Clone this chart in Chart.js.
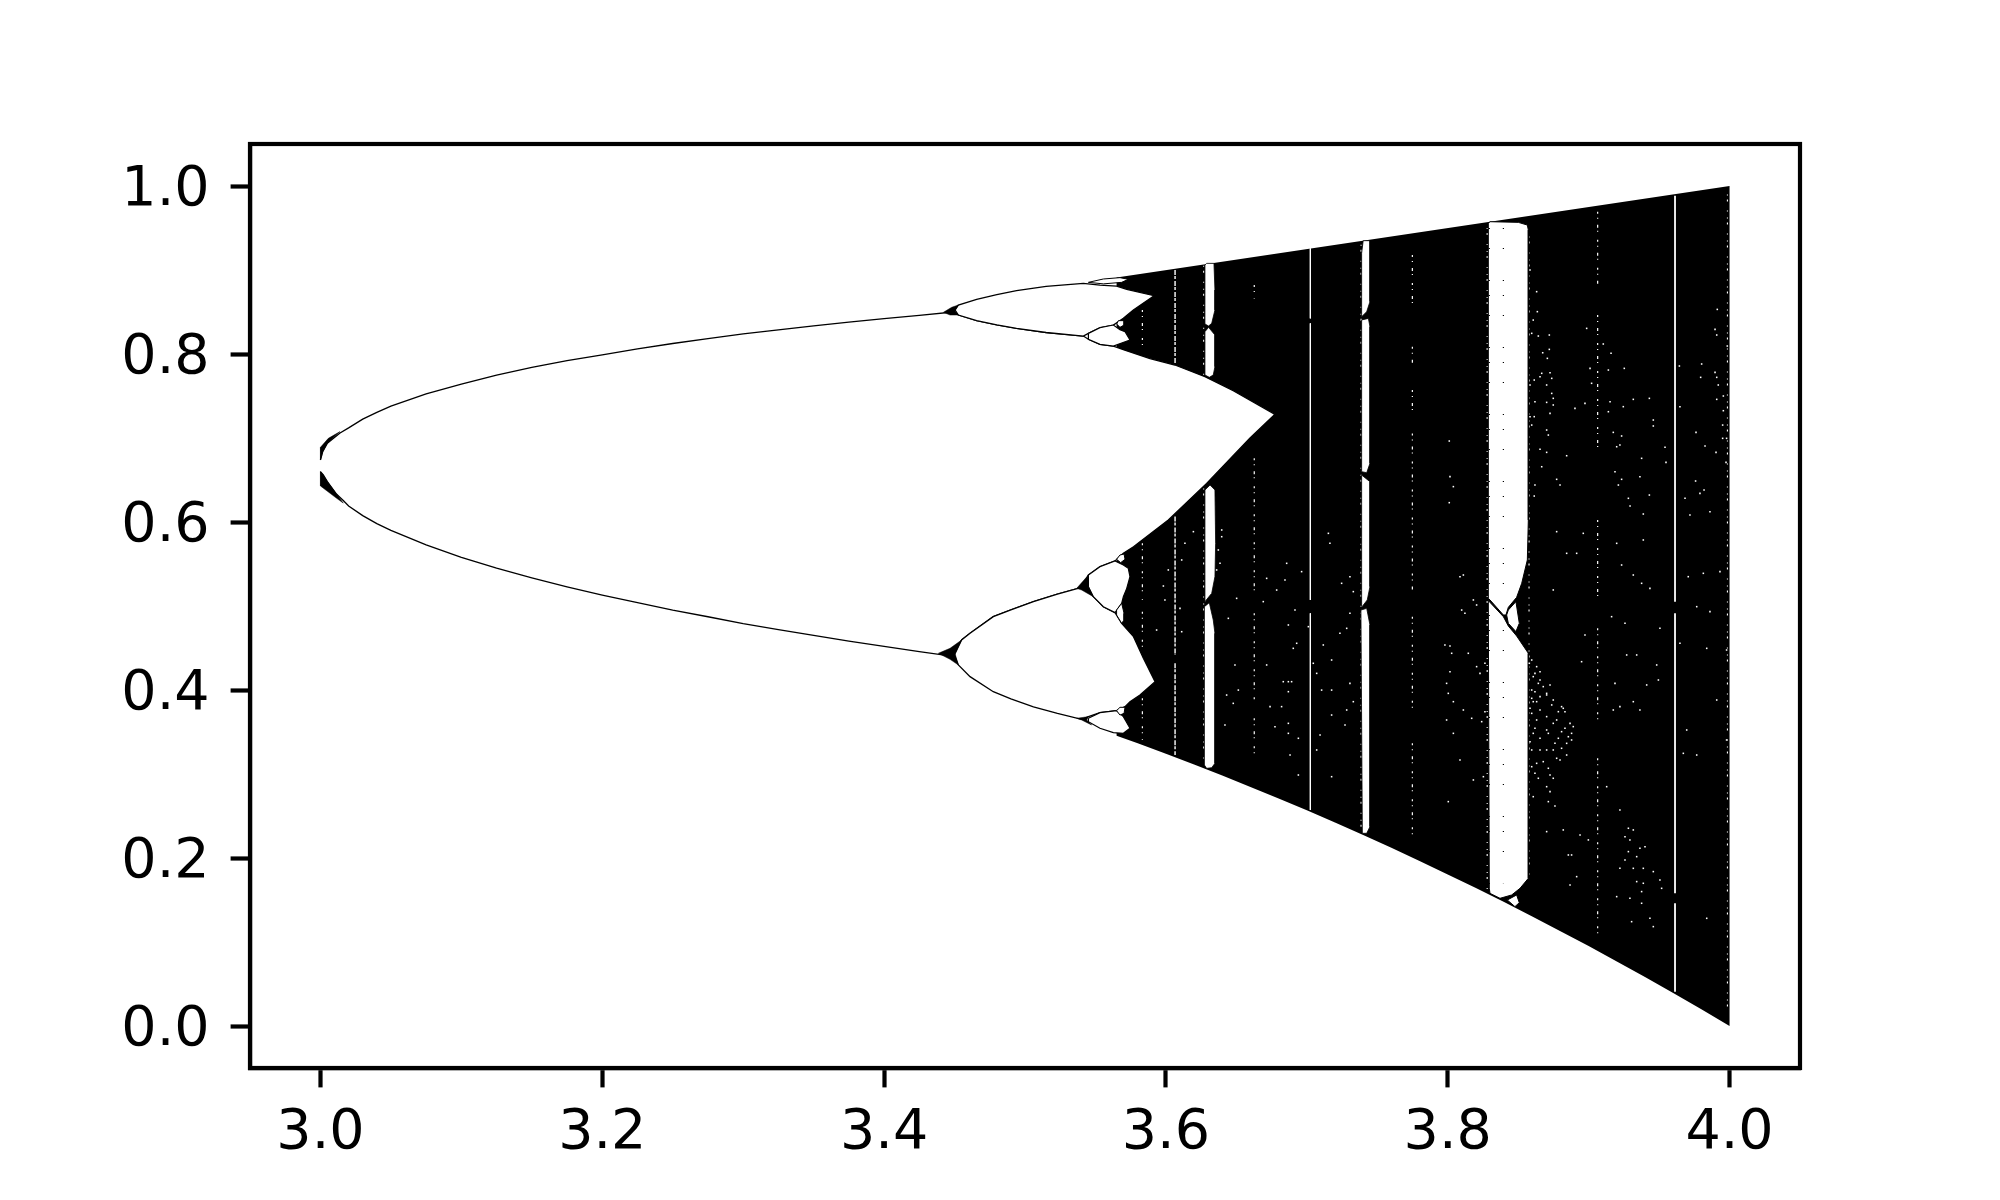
<!DOCTYPE html>
<html>
<head>
<meta charset="utf-8">
<title>Bifurcation diagram</title>
<script src="https://cdn.jsdelivr.net/npm/chart.js@4"></script>
<style>
  html, body { margin: 0; background: #fff; }
  canvas { display: block; }
</style>
</head>
<body>
<canvas id="myChart" width="2000" height="1200"></canvas>
<script>
const xTicks = [3.0, 3.2, 3.4, 3.6, 3.8, 4.0];
const yTicks = [0.0, 0.2, 0.4, 0.6, 0.8, 1.0];

// black band, r against x
const bandR = [3.565, 4.0, 4.0, 3.98, 3.96, 3.94, 3.92, 3.9, 3.88, 3.86, 3.84, 3.82, 3.8, 3.78, 3.76, 3.74, 3.72, 3.7, 3.68, 3.66, 3.64, 3.62, 3.6, 3.58, 3.565];
const bandV = [0.891, 1.0, 0.0, 0.0198, 0.0392, 0.0582, 0.0768, 0.0951, 0.1129, 0.1304, 0.1475, 0.1642, 0.1805, 0.1965, 0.2121, 0.2273, 0.2422, 0.2567, 0.2708, 0.2846, 0.2981, 0.3112, 0.324, 0.3366, 0.3455];

// white holes
const holeAR = [3.0, 3.0016, 3.0049, 3.0139, 3.02, 3.03, 3.04, 3.05, 3.075, 3.1, 3.125, 3.15, 3.175, 3.2, 3.225, 3.25, 3.275, 3.3, 3.325, 3.35, 3.375, 3.4, 3.425, 3.449, 3.4527, 3.4657, 3.48, 3.494, 3.515, 3.5414, 3.545, 3.5532, 3.5627, 3.5703, 3.5887, 3.6064, 3.6277, 3.6478, 3.6774, 3.6597, 3.6289, 3.6017, 3.577, 3.5698, 3.5639, 3.5532, 3.545, 3.5402, 3.523, 3.506, 3.49, 3.4775, 3.461, 3.455, 3.449, 3.425, 3.4, 3.375, 3.35, 3.325, 3.3, 3.275, 3.25, 3.225, 3.2, 3.175, 3.15, 3.125, 3.1, 3.075, 3.05, 3.04, 3.03, 3.02, 3.0162, 3.0115, 3.0049, 3.002, 3.0];
const holeAV = [0.6738, 0.6837, 0.6937, 0.706, 0.712, 0.7224, 0.7306, 0.738, 0.7525, 0.764, 0.7749, 0.784, 0.7921, 0.799, 0.8062, 0.8125, 0.8182, 0.824, 0.8287, 0.8334, 0.8379, 0.842, 0.8461, 0.85, 0.8464, 0.8397, 0.8348, 0.8306, 0.8256, 0.8214, 0.8175, 0.8115, 0.8095, 0.8048, 0.7945, 0.7869, 0.773, 0.7563, 0.7282, 0.7, 0.646, 0.6024, 0.5706, 0.5627, 0.5536, 0.5468, 0.5369, 0.5222, 0.5142, 0.5052, 0.4955, 0.4873, 0.4675, 0.4595, 0.44, 0.4458, 0.452, 0.4583, 0.465, 0.472, 0.479, 0.4872, 0.495, 0.5039, 0.513, 0.5228, 0.5335, 0.5451, 0.558, 0.5727, 0.59, 0.598, 0.6076, 0.619, 0.6255, 0.633, 0.648, 0.656, 0.6599];

const holeCR = [3.4499, 3.455, 3.461, 3.4775, 3.49, 3.506, 3.523, 3.5402, 3.545, 3.5485, 3.5556, 3.5639, 3.5686, 3.577, 3.584, 3.5923, 3.5816, 3.5745, 3.571, 3.565, 3.5532, 3.545, 3.5402, 3.523, 3.506, 3.49, 3.4775, 3.461, 3.4527, 3.4499];
const holeCV = [0.4417, 0.4595, 0.4675, 0.4873, 0.4955, 0.5052, 0.5142, 0.5222, 0.519, 0.5111, 0.4992, 0.4921, 0.4794, 0.4635, 0.4377, 0.4099, 0.394, 0.3861, 0.3802, 0.3754, 0.373, 0.3683, 0.3651, 0.3722, 0.38, 0.3895, 0.398, 0.4159, 0.4298, 0.4417];

const holeGR = [3.4503, 3.4527, 3.4657, 3.48, 3.494, 3.515, 3.5414, 3.5532, 3.565, 3.5722, 3.5916, 3.5769, 3.5698, 3.5627, 3.5532, 3.545, 3.5414, 3.515, 3.494, 3.48, 3.4657, 3.4527, 3.4503];
const holeGV = [0.8524, 0.8583, 0.8651, 0.8707, 0.8754, 0.8805, 0.8841, 0.8821, 0.8809, 0.877, 0.8694, 0.8524, 0.8425, 0.8345, 0.8313, 0.8246, 0.8214, 0.8256, 0.8306, 0.8348, 0.8397, 0.8464, 0.8524];

const lensBR = [3.545, 3.545, 3.5532, 3.5639, 3.5698, 3.5733, 3.5745, 3.5722, 3.5698, 3.5686, 3.5639, 3.5556, 3.5485, 3.545];
const lensBV = [0.523, 0.5369, 0.5468, 0.5536, 0.5488, 0.5449, 0.5349, 0.521, 0.5111, 0.5032, 0.4921, 0.4992, 0.5111, 0.523];
const lensDR = [3.545, 3.5532, 3.565, 3.5698, 3.5745, 3.5698, 3.5627, 3.5532, 3.545, 3.545];
const lensDV = [0.3663, 0.373, 0.3754, 0.3683, 0.3544, 0.3484, 0.3492, 0.3544, 0.3623, 0.3663];
const lensHR = [3.545, 3.5556, 3.5674, 3.5733, 3.5686, 3.5556, 3.545];
const lensHV = [0.8853, 0.8893, 0.8909, 0.8889, 0.8853, 0.8835, 0.8853];
const lensJR = [3.545, 3.5532, 3.5627, 3.5674, 3.571, 3.5745, 3.5627, 3.5532, 3.545, 3.545];
const lensJV = [0.8246, 0.8313, 0.8345, 0.829, 0.8266, 0.8167, 0.8095, 0.8115, 0.8175, 0.8246];
const lensER = [3.565, 3.5674, 3.5703, 3.571, 3.5679, 3.565];
const lensEV = [0.5556, 0.5607, 0.5619, 0.5556, 0.5516, 0.5556];
const lensFR = [3.565, 3.5686, 3.5703, 3.5703, 3.5686, 3.565, 3.565];
const lensFV = [0.4952, 0.5032, 0.4913, 0.4833, 0.4794, 0.4893, 0.4952];
const lensKR = [3.5651, 3.5663, 3.5703, 3.5703, 3.5674, 3.5651];
const lensKV = [0.8357, 0.8397, 0.8397, 0.8345, 0.8317, 0.8357];
const lensLR = [3.565, 3.5674, 3.571, 3.5703, 3.5674, 3.565];
const lensLV = [0.3754, 0.3794, 0.3794, 0.3722, 0.3702, 0.3754];

// periodic windows
const win63aR = [3.6277, 3.6289, 3.6341, 3.6348, 3.6348, 3.6325, 3.6303, 3.6277, 3.6277];
const win63aV = [0.9059, 0.9079, 0.9079, 0.8762, 0.8524, 0.8365, 0.8333, 0.8357, 0.9059];
const win63bR = [3.6303, 3.6348, 3.6348, 3.6336, 3.6308, 3.6277, 3.6277, 3.6303];
const win63bV = [0.8317, 0.8226, 0.7849, 0.775, 0.7722, 0.775, 0.8266, 0.8317];
const win63cR = [3.6277, 3.6313, 3.6348, 3.6353, 3.6348, 3.6325, 3.6277, 3.6277];
const win63cV = [0.6381, 0.644, 0.6381, 0.5746, 0.5349, 0.5151, 0.5052, 0.6381];
const win63dR = [3.6308, 3.6336, 3.6348, 3.6348, 3.6325, 3.6289, 3.6273, 3.6273, 3.6308];
const win63dV = [0.504, 0.4833, 0.4675, 0.3127, 0.3075, 0.3067, 0.3107, 0.4992, 0.504];

const win74aR = [3.74, 3.7448, 3.7448, 3.7425, 3.7389, 3.7389, 3.74];
const win74aV = [0.9349, 0.9349, 0.8623, 0.8504, 0.8444, 0.9198, 0.9349];
const win74bR = [3.7437, 3.7448, 3.7448, 3.7425, 3.7389, 3.7389, 3.7437];
const win74bV = [0.8424, 0.8325, 0.6698, 0.6587, 0.6599, 0.8405, 0.8424];
const win74cR = [3.7389, 3.7448, 3.7448, 3.7429, 3.7392, 3.7389, 3.7389];
const win74cV = [0.6559, 0.648, 0.523, 0.5072, 0.4992, 0.5, 0.6559];
const win74dR = [3.7425, 3.7448, 3.7448, 3.7425, 3.7394, 3.7384, 3.7425];
const win74dV = [0.4972, 0.4774, 0.2373, 0.2294, 0.2294, 0.4952, 0.4972];

const win83aR = [3.83, 3.8501, 3.8565, 3.8572, 3.8572, 3.8565, 3.8525, 3.8489, 3.843, 3.8413, 3.8395, 3.83, 3.8288, 3.8288, 3.83];
const win83aV = [0.9575, 0.9567, 0.9535, 0.9476, 0.6024, 0.5548, 0.527, 0.5103, 0.4984, 0.4893, 0.4893, 0.5072, 0.5091, 0.9555, 0.9575];
const win83bR = [3.8288, 3.8395, 3.843, 3.8489, 3.8572, 3.8572, 3.8513, 3.8454, 3.8371, 3.83, 3.8295, 3.8288];
const win83bV = [0.5064, 0.4873, 0.4762, 0.4643, 0.4437, 0.1758, 0.1639, 0.156, 0.152, 0.1579, 0.1639, 0.5064];
const lens83aR = [3.8484, 3.8508, 3.8484, 3.843, 3.8418, 3.843, 3.8484];
const lens83aV = [0.5052, 0.4794, 0.4695, 0.4794, 0.4893, 0.4952, 0.5052];
const lens83bR = [3.8423, 3.8489, 3.8508, 3.8477, 3.8423];
const lens83bV = [0.15, 0.156, 0.1468, 0.1421, 0.15];

// black thickening where the branches split
const wedgeAR = [3.0, 3.0, 3.0016, 3.0049, 3.0139, 3.0056, 3.0];
const wedgeAV = [0.6889, 0.6738, 0.6837, 0.6937, 0.7076, 0.6996, 0.6889];
const wedgeBR = [3.0, 3.0, 3.0115, 3.0162, 3.0049, 3.002, 3.0];
const wedgeBV = [0.6599, 0.6429, 0.6282, 0.6225, 0.648, 0.656, 0.6599];
const wedgeCR = [3.4385, 3.4468, 3.455, 3.4503, 3.4527, 3.4468, 3.4385];
const wedgeCV = [0.4437, 0.4496, 0.4595, 0.4437, 0.4298, 0.4365, 0.4437];
const wedgeDR = [3.4421, 3.448, 3.4527, 3.4503, 3.4527, 3.4468, 3.4421];
const wedgeDV = [0.8496, 0.8556, 0.8583, 0.8512, 0.8464, 0.8464, 0.8496];
const wedgeER = [3.5367, 3.545, 3.545, 3.5485, 3.5402, 3.5367];
const wedgeEV = [0.521, 0.5369, 0.523, 0.5111, 0.519, 0.521];
const wedgeFR = [3.5367, 3.545, 3.5438, 3.5473, 3.5402, 3.5367];
const wedgeFV = [0.3663, 0.3683, 0.3643, 0.3583, 0.3643, 0.3663];

// thin vertical stripes: r, upper x, lower x
const dottedR = [3.5833, 3.5833, 3.5833, 3.5833, 3.6627, 3.6627, 3.6627, 3.6627, 3.7749, 3.7749, 3.7749, 3.7749, 3.7749, 3.7749, 3.9064, 3.9064, 3.9064, 3.9064, 3.9064];
const dottedHi = [0.8524, 0.5746, 0.4933, 0.3901, 0.8821, 0.6758, 0.4913, 0.3663, 0.9178, 0.8087, 0.7571, 0.7055, 0.4873, 0.3365, 0.9694, 0.8464, 0.6024, 0.4734, 0.3187];
const dottedLo = [0.8048, 0.5072, 0.4476, 0.3405, 0.8662, 0.5111, 0.3841, 0.3187, 0.8563, 0.7869, 0.7254, 0.5191, 0.3762, 0.2214, 0.8821, 0.6817, 0.5052, 0.3643, 0.1084];
const dashedR = [3.6065, 3.6065, 3.6065];
const dashedHi = [0.9, 0.6064, 0.4317];
const dashedLo = [0.7889, 0.4417, 0.3226];
const solidR = [3.7025, 3.7025, 3.7025, 3.9613, 3.9613, 3.9613];
const solidHi = [0.9258, 0.8365, 0.4913, 0.9885, 0.4913, 0.146];
const solidLo = [0.8424, 0.5072, 0.2572, 0.5052, 0.158, 0.0409];
const solidW = [1, 1, 1, 1.8, 1.8, 1.8];
// noisy window edges
const fringeR = [3.6268, 3.6268, 3.7385, 3.828, 3.8577, 3.9985];
const fringeHi = [0.905, 0.64, 0.93, 0.95, 0.94, 0.99];
const fringeLo = [0.775, 0.312, 0.232, 0.16, 0.18, 0.02];
const blackDotsR = [3.8295, 3.8395];
const blackDotsHi = [0.95, 0.95];
const blackDotsLo = [0.16, 0.17];

// white specks
const specksR = [
  3.8596, 3.8631, 3.8655, 3.8607, 3.8643, 3.8726, 3.8596, 3.8655, 3.8702, 3.8607, 3.8749, 3.8808, 3.8832, 3.8655, 3.8596, 3.8702, 3.8773, 3.8868, 3.8891, 3.8808,
  3.8607, 3.8714, 3.8856, 3.8879, 3.8655, 3.8761, 3.8596, 3.8702, 3.8808, 3.8773, 3.8844, 3.8631, 3.8714, 3.8619, 3.8749, 3.8702, 3.8726, 3.8607, 3.8714, 3.8761,
  3.8087, 3.8111, 3.8182, 3.8205, 3.8099, 3.8122, 3.798, 3.8016, 3.8028, 3.8146, 3.8205, 3.8264, 3.8229, 3.8016, 3.7992, 3.8004, 3.804, 3.8111, 3.817, 3.8264, 3.8241, 3.7992, 3.804, 3.8182, 3.8253, 3.8087, 3.8004,
  3.8749, 3.8773, 3.8962, 3.8915, 3.8844, 3.9199, 3.9388, 3.9234, 3.9317, 3.9376, 3.9435, 3.9163, 3.9258, 3.9506, 3.8974, 3.927, 3.9341, 3.895, 3.9483, 3.9187, 3.9364, 3.9317, 3.9222, 3.9175, 3.9495, 3.9412, 3.9128, 3.9222, 3.9696, 3.9979, 3.9909, 3.9767, 3.9861, 3.9814, 3.9932, 3.9707, 3.9648, 3.9838, 3.9979, 3.9672, 3.9767,
  3.9258, 3.9282, 3.9317, 3.9293, 3.9282, 3.9364, 3.94, 3.9258, 3.9341, 3.9222, 3.9317, 3.9388, 3.9459, 3.9341, 3.9388, 3.9506, 3.9518, 3.9376, 3.9199, 3.9293, 3.9376, 3.9435, 3.9459, 3.9305, 3.9838, 3.8856, 3.8879, 3.8915, 3.8868, 3.8702, 3.882, 3.8939, 3.8998,
  3.6396, 3.6396, 3.6372, 3.6384, 3.636, 3.6195, 3.6135, 3.6112, 3.6017, 3.5982, 3.5993, 3.61, 3.5934, 3.6112, 3.6443, 3.6502, 3.6715, 3.6715, 3.649, 3.6431, 3.6514, 3.6478, 3.6419, 3.6774, 3.6739, 3.6821, 3.6869, 3.6833, 3.6892, 3.6869, 3.6869, 3.6869, 3.694, 3.6881, 3.694,
  3.7153, 3.7164, 3.7247, 3.7306, 3.733, 3.7011, 3.6928, 3.6904, 3.7117, 3.7176, 3.7046, 3.707, 3.7105, 3.7176, 3.7283, 3.7176, 3.7271, 3.7094, 3.707, 3.7176, 3.7306, 3.7283, 3.7235, 3.7306, 3.733, 3.6857, 3.6845, 3.6963, 3.6786, 3.6691, 3.6916, 3.6869
];
const specksV = [
  0.4357, 0.4278, 0.4218, 0.4159, 0.4079, 0.406, 0.4, 0.3921, 0.3941, 0.3861, 0.3881, 0.3802, 0.3742, 0.3762, 0.3722, 0.3683, 0.3643, 0.3603, 0.3564, 0.3504,
  0.3484, 0.3484, 0.3444, 0.3405, 0.3425, 0.3365, 0.3286, 0.3286, 0.3306, 0.3187, 0.3226, 0.3127, 0.3068, 0.3008, 0.2949, 0.2849, 0.279, 0.273, 0.2671, 0.2619,
  0.5349, 0.5369, 0.5072, 0.5012, 0.4952, 0.4913, 0.4536, 0.4524, 0.4437, 0.4437, 0.4278, 0.4318, 0.4198, 0.4218, 0.4079, 0.396, 0.3861, 0.3762, 0.3663, 0.3742, 0.3623, 0.3643, 0.3484, 0.2929, 0.2968, 0.3167, 0.2671,
  0.5191, 0.5885, 0.5865, 0.5627, 0.5627, 0.5746, 0.5786, 0.5488, 0.5369, 0.527, 0.521, 0.4873, 0.4794, 0.4734, 0.4655, 0.4417, 0.4417, 0.4337, 0.4298, 0.4079, 0.3762, 0.3861, 0.3802, 0.3762, 0.4119, 0.406, 0.2849, 0.2571, 0.3524, 0.3405, 0.3881, 0.4992, 0.4933, 0.5389, 0.5409, 0.5349, 0.4556, 0.4496, 0.4476, 0.3246, 0.3226,
  0.2254, 0.2354, 0.2334, 0.2215, 0.2076, 0.2115, 0.2135, 0.1977, 0.2016, 0.1877, 0.1877, 0.1877, 0.1838, 0.1719, 0.1699, 0.1738, 0.1639, 0.16, 0.154, 0.152, 0.1461, 0.1282, 0.1183, 0.1242, 0.1282, 0.2036, 0.2036, 0.1778, 0.1679, 0.2314, 0.2334, 0.2274, 0.2215,
  0.5905, 0.5825, 0.5667, 0.5508, 0.5429, 0.5885, 0.5746, 0.5548, 0.5429, 0.5238, 0.5072, 0.4972, 0.4714, 0.4694, 0.4853, 0.5091, 0.5329, 0.4298, 0.4298, 0.394, 0.3999, 0.3841, 0.3583, 0.3563, 0.3802, 0.3802, 0.4099, 0.4099, 0.4099, 0.398, 0.3603, 0.3484, 0.3425, 0.3226, 0.2988,
  0.5865, 0.5746, 0.527, 0.5349, 0.5171, 0.4754, 0.4556, 0.4496, 0.4536, 0.4357, 0.4318, 0.4198, 0.3999, 0.3999, 0.3762, 0.3702, 0.3583, 0.3464, 0.3286, 0.2968, 0.4913, 0.4734, 0.4675, 0.4079, 0.3861, 0.5508, 0.531, 0.5409, 0.519, 0.5052, 0.4952, 0.4774
];
// more specks, upper right of the big window and inside the triangle next to it
const upperSpecksR = [
  3.8584, 3.8631, 3.8636, 3.8607, 3.8596, 3.8643, 3.8721, 3.8721, 3.8674, 3.8707, 3.8667, 3.8726, 3.8614, 3.8655, 3.8738, 3.8584, 3.8702, 3.8738, 3.8749, 3.8619, 3.8702, 3.8749, 3.8726, 3.8584, 3.8614, 3.8596, 3.8702, 3.8714, 3.8655, 3.8702, 3.8844, 3.8667, 3.8773, 3.8797, 3.8619, 3.8614,
  3.8986, 3.901, 3.9021, 3.8974, 3.8903, 3.914, 3.9104, 3.9159, 3.9253, 3.9317, 3.9431, 3.9152, 3.9246, 3.914, 3.9459, 3.9459, 3.9175, 3.9234, 3.9222, 3.9199, 3.9376, 3.9542, 3.9549, 3.9364, 3.9187, 3.9234, 3.9211, 3.9431, 3.9282, 3.9294, 3.9388,
  3.9913, 3.9897, 3.9909, 3.9984, 3.9802, 3.9897, 3.9795, 3.9909, 3.992, 3.9644, 3.9648, 3.9909, 3.9956, 3.9956, 3.9951, 3.9951, 3.9979, 3.9762, 3.9826, 3.9904, 3.9975, 3.9759, 3.9819, 3.979, 3.9684, 3.9861, 3.9719,
  3.8011, 3.8016, 3.804, 3.8011
];
const upperSpecksV = [
  0.8999, 0.8742, 0.8504, 0.8404, 0.8246, 0.8214, 0.8226, 0.8055, 0.8015, 0.7948, 0.777, 0.7777, 0.769, 0.773, 0.771, 0.7631, 0.7631, 0.7531, 0.7472, 0.7432, 0.7424, 0.7393, 0.7293, 0.7254, 0.7254, 0.7154, 0.7095, 0.7035, 0.6865, 0.6829, 0.6789, 0.6658, 0.6508, 0.644, 0.644, 0.6309,
  0.8305, 0.7829, 0.7651, 0.7412, 0.7353, 0.7809, 0.8119, 0.8008, 0.7829, 0.746, 0.7472, 0.7432, 0.7373, 0.7313, 0.7214, 0.7143, 0.7067, 0.7024, 0.6916, 0.6896, 0.6758, 0.6889, 0.671, 0.6539, 0.6599, 0.6508, 0.644, 0.6321, 0.6282, 0.619, 0.6095,
  0.8531, 0.8293, 0.8226, 0.8095, 0.7881, 0.7781, 0.7722, 0.7722, 0.7631, 0.7857, 0.7373, 0.746, 0.75, 0.7325, 0.7154, 0.6996, 0.6996, 0.7067, 0.6904, 0.6829, 0.671, 0.6488, 0.6381, 0.6341, 0.6282, 0.6123, 0.6083,
  0.6964, 0.654, 0.6421, 0.623
];
const triangleSpecksR = [3.8579, 3.8619, 3.8655, 3.8678, 3.8619, 3.8702, 3.8596, 3.8631, 3.8738, 3.8785, 3.882, 3.8584, 3.8631, 3.8749, 3.8832, 3.8879, 3.8619, 3.8702, 3.8785, 3.8844, 3.8584, 3.8655, 3.8749, 3.8797, 3.8678, 3.8596, 3.8726, 3.8643];
const triangleSpecksV = [0.4318, 0.4198, 0.4119, 0.404, 0.398, 0.396, 0.3901, 0.3861, 0.3822, 0.3742, 0.3782, 0.3782, 0.3643, 0.3603, 0.3544, 0.3484, 0.3544, 0.3524, 0.3425, 0.3365, 0.3385, 0.3286, 0.3286, 0.3167, 0.3147, 0.3087, 0.2988, 0.2949];

function toPoints(rs, vs) {
    return rs.map((r, i) => ({ x: r, y: vs[i] }));
}

function area(rs, vs, color, width) {
    return {
        data: toPoints(rs, vs),
        showLine: true,
        fill: 'shape',
        backgroundColor: color,
        borderColor: '#000',
        borderWidth: width,
        pointRadius: 0
    };
}

function stripes(rs, his, los, color, width, dash) {
    return rs.map((r, i) => ({
        data: [{ x: r, y: his[i] }, { x: r, y: los[i] }],
        showLine: true,
        borderColor: color,
        borderWidth: Array.isArray(width) ? width[i] : width,
        borderDash: dash,
        pointRadius: 0
    }));
}

function specks(rs, vs) {
    return {
        data: toPoints(rs, vs),
        pointStyle: 'rect',
        pointRadius: 1.1,
        pointBackgroundColor: '#fff',
        pointBorderWidth: 0
    };
}

// bottom layer first, reversed below because Chart.js paints the first dataset on top
const layers = [
    area(bandR, bandV, '#000', 0),
    area(holeAR, holeAV, '#fff', 1.3),
    area(holeCR, holeCV, '#fff', 1.3),
    area(holeGR, holeGV, '#fff', 1.3),
    area(lensBR, lensBV, '#fff', 1.2),
    area(lensDR, lensDV, '#fff', 1.2),
    area(lensHR, lensHV, '#fff', 1),
    area(lensJR, lensJV, '#fff', 1.2),
    area(lensER, lensEV, '#fff', 1),
    area(lensFR, lensFV, '#fff', 1),
    area(lensKR, lensKV, '#fff', 1),
    area(lensLR, lensLV, '#fff', 1),
    area(wedgeAR, wedgeAV, '#000', 0.5),
    area(wedgeBR, wedgeBV, '#000', 0.5),
    area(wedgeCR, wedgeCV, '#000', 0.5),
    area(wedgeDR, wedgeDV, '#000', 0.5),
    area(wedgeER, wedgeEV, '#000', 0.5),
    area(wedgeFR, wedgeFV, '#000', 0.5),
    ...stripes(dottedR, dottedHi, dottedLo, '#fff', 1.2, [2, 4, 1, 6, 3, 3, 1, 8]),
    ...stripes(dashedR, dashedHi, dashedLo, '#fff', 1.4, [5, 1, 3, 2]),
    ...stripes(solidR, solidHi, solidLo, '#fff', solidW, []),
    ...stripes(fringeR, fringeHi, fringeLo, '#fff', 1.1, [1, 4, 2, 9, 1, 6]),
    area(win63aR, win63aV, '#fff', 0.8),
    area(win63bR, win63bV, '#fff', 0.8),
    area(win63cR, win63cV, '#fff', 0.8),
    area(win63dR, win63dV, '#fff', 0.8),
    area(win74aR, win74aV, '#fff', 0.8),
    area(win74bR, win74bV, '#fff', 0.8),
    area(win74cR, win74cV, '#fff', 0.8),
    area(win74dR, win74dV, '#fff', 0.8),
    area(win83aR, win83aV, '#fff', 1),
    area(win83bR, win83bV, '#fff', 1),
    area(lens83aR, lens83aV, '#fff', 1),
    area(lens83bR, lens83bV, '#fff', 1),
    ...stripes(blackDotsR, blackDotsHi, blackDotsLo, '#000', 1.2, [1, 19, 1, 31, 1, 14]),
    specks(specksR, specksV),
    specks(upperSpecksR, upperSpecksV),
    specks(triangleSpecksR, triangleSpecksV)
];

const tickFont = { family: '"DejaVu Sans"', size: 55.5 };
// y labels sit a little lower than canvas middle baseline, the empty first line pushes them down
const yTickFont = { family: '"DejaVu Sans"', size: 55.5, lineHeight: 0.18 };

const frame = {
    id: 'frame',
    afterDraw(chart) {
        const { ctx, chartArea: a } = chart;
        ctx.save();
        ctx.strokeStyle = '#000';
        ctx.lineWidth = 4.2;
        ctx.strokeRect(a.left, a.top, a.right - a.left, a.bottom - a.top);
        ctx.restore();
    }
};

new Chart(document.querySelector('#myChart').getContext('2d'), {
    type: 'scatter',
    data: { datasets: layers.reverse() },
    plugins: [frame],
    options: {
        responsive: false,
        animation: false,
        layout: { padding: { top: 144, right: 200, left: 0, bottom: 0 } },
        plugins: { legend: { display: false }, tooltip: { enabled: false } },
        scales: {
            x: {
                min: 2.95,
                max: 4.05,
                afterBuildTicks: s => { s.ticks = xTicks.map(v => ({ value: v })); },
                afterFit: s => { s.height = 132; },
                grid: { drawOnChartArea: false, tickLength: 19.4, tickWidth: 4.2, tickColor: '#000' },
                border: { color: '#000', width: 4.2 },
                ticks: { color: '#000', font: tickFont, padding: 13, maxRotation: 0, callback: v => Number(v).toFixed(1) }
            },
            y: {
                min: -0.05,
                max: 1.05,
                afterBuildTicks: s => { s.ticks = yTicks.map(v => ({ value: v })); },
                afterFit: s => { s.width = 250; },
                grid: { drawOnChartArea: false, tickLength: 19.4, tickWidth: 4.2, tickColor: '#000' },
                border: { color: '#000', width: 4.2 },
                ticks: { color: '#000', font: yTickFont, padding: 21, callback: v => ['', Number(v).toFixed(1)] }
            }
        }
    }
});
</script>
</body>
</html>
